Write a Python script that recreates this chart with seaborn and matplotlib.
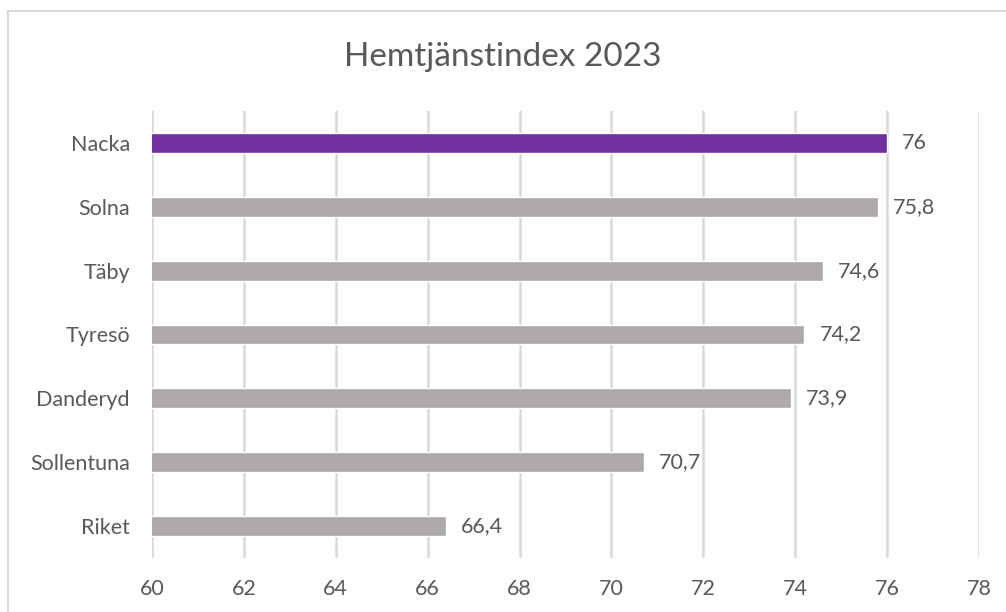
import matplotlib
matplotlib.use("Agg")
import matplotlib.pyplot as plt
import matplotlib.patches as mpatches
import seaborn as sns

# data
kommuner = ["Nacka", "Solna", "Täby", "Tyresö", "Danderyd", "Sollentuna", "Riket"]
index_2023 = [76, 75.8, 74.6, 74.2, 73.9, 70.7, 66.4]
value_labels = ["76", "75,8", "74,6", "74,2", "73,9", "70,7", "66,4"]
x_ticks = [60, 62, 64, 66, 68, 70, 72, 74, 76, 78]

purple = "#7030A0"
grey = "#AEAAAA"
text_col = "#595959"
grid_col = "#D9D9D9"

sns.set_theme(style="white")
plt.rcParams["font.family"] = ["Lato", "DejaVu Sans"]

fig = plt.figure(figsize=(10.06, 6.12), dpi=100)
ax = fig.add_axes([152 / 1006, 1 - 558 / 612, (979 - 152) / 1006, (558 - 111) / 612])

palette = {k: (purple if k == "Nacka" else grey) for k in kommuner}
sns.barplot(x=index_2023, y=kommuner, hue=kommuner, palette=palette, legend=False,
            orient="h", width=0.31, saturation=1, ax=ax, zorder=3)

ax.set_xlim(60, 78)
ax.set_ylim(6.5, -0.5)
ax.set_xticks(x_ticks)
ax.set_xticklabels([str(t) for t in x_ticks])
ax.grid(axis="x", color=grid_col, linewidth=1.8, zorder=0)
ax.grid(axis="y", visible=False)
for s in ax.spines.values():
    s.set_visible(False)
ax.tick_params(axis="both", length=0, labelsize=15.5, labelcolor=text_col)
ax.tick_params(axis="x", pad=15)
ax.tick_params(axis="y", pad=16)
ax.set_xlabel("")
ax.set_ylabel("")

for i, (v, lab) in enumerate(zip(index_2023, value_labels)):
    ax.annotate(lab, (v, i), xytext=(15, 0), textcoords="offset pixels",
                va="center", ha="left", fontsize=15.5, color=text_col)

fig.text(0.5, 1 - 57 / 612, "Hemtjänstindex 2023", ha="center", va="center",
         fontsize=24, color=text_col)

# chart frame (cut off at right and bottom like the screenshot)
frame = mpatches.Rectangle((8 / 1006, -0.1), 1.2, 1 - 11 / 612 + 0.1,
                           transform=fig.transFigure, fill=False,
                           edgecolor=grid_col, linewidth=1.5, clip_on=False)
fig.patches.append(frame)

fig.savefig("out.png", dpi=100)
